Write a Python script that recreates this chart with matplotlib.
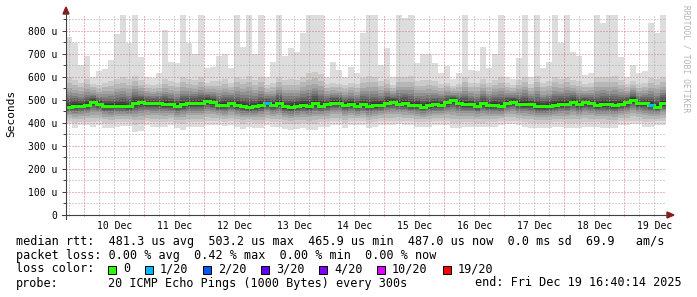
import numpy as np
import matplotlib
matplotlib.use('Agg')
import matplotlib.pyplot as plt
from matplotlib.patches import Rectangle, Polygon
from matplotlib.lines import Line2D

W, H = 697, 297
MONO = 'DejaVu Sans Mono'

# ---------------- data (microseconds), one column per 2.4 h -----------------
COL_HOURS = 2.4          # 10 days shown in 100 columns
DAY0_OFFSET = 7 + 20/60  # hours from window start (9 Dec 16:40) to 10 Dec 00:00

median_us = [470, 473, 474, 477, 492, 482, 474, 473, 474, 474,
             471, 485, 489, 485, 485, 485, 482, 480, 474, 480,
             485, 485, 485, 495, 489,
             477, 477, 485, 477, 474, 468, 471, 476, 485, 479,
             485, 471, 467, 474, 476, 473, 485, 474, 480, 488,
             488, 479, 482, 474, 480,
             474, 476, 479, 488, 492, 483, 485, 477, 479, 470,
             477, 480, 479, 489, 498, 488, 480, 480, 474, 485,
             477, 479, 474, 488, 492,
             483, 482, 482, 471, 471, 474, 479, 482, 483, 492,
             482, 490, 485, 477, 482, 480, 477, 483, 489, 501,
             485, 486, 479, 470, 485]

max_us = [774, 745, 651, 690, 600, 625, 632, 673, 785, 868,
          745, 868, 687, 600, 593, 615, 803, 665, 658, 868,
          745, 701, 868, 636, 644,
          689, 701, 636, 868, 730, 868, 701, 868, 600, 665,
          868, 689, 723, 709, 788, 868, 868, 868, 600, 665,
          630, 600, 644, 615, 788,
          868, 868, 651, 723, 600, 868, 853, 868, 658, 701,
          701, 658, 615, 645, 590, 615, 868, 630, 625, 730,
          636, 701, 868, 600, 590,
          680, 868, 600, 868, 636, 665, 868, 745, 868, 709,
          689, 607, 615, 868, 832, 868, 868, 687, 600, 651,
          615, 625, 832, 788, 868]

upper2_us = [600, 585, 575, 590, 570, 565, 575, 580, 590, 600,
             590, 605, 585, 570, 565, 570, 590, 580, 575, 600,
             590, 585, 600, 575, 580,
             580, 590, 575, 600, 590, 605, 585, 600, 565, 575,
             600, 585, 590, 585, 600, 615, 620, 610, 570, 575,
             570, 565, 575, 570, 595,
             605, 600, 580, 590, 565, 600, 600, 605, 580, 585,
             585, 580, 570, 575, 560, 570, 600, 575, 575, 590,
             575, 585, 600, 575, 565,
             585, 600, 570, 605, 575, 580, 600, 590, 600, 585,
             580, 570, 575, 600, 600, 600, 605, 585, 570, 580,
             570, 575, 595, 590, 600]

lower2_us = [410, 400, 405, 405, 402, 408, 400, 398, 402, 405,
             403, 392, 395, 406, 402, 402, 402, 405, 398, 395,
             402, 402, 402, 406, 406,
             406, 404, 406, 402, 396, 402, 398, 398, 406, 402,
             402, 396, 394, 396, 398, 394, 394, 402, 402, 406,
             406, 398, 406, 406, 406,
             398, 402, 406, 406, 406, 410, 406, 406, 402, 402,
             402, 406, 406, 406, 398, 398, 402, 402, 400, 400,
             402, 402, 406, 410, 410,
             406, 402, 398, 398, 398, 398, 402, 402, 398, 398,
             398, 402, 402, 402, 398, 398, 398, 406, 406, 410,
             410, 402, 402, 406, 406]

min_us = [397, 376, 390, 390, 383, 390, 376, 376, 383, 386,
          386, 362, 365, 390, 383, 383, 383, 390, 376, 370,
          383, 383, 383, 390, 390,
          390, 386, 390, 383, 372, 383, 376, 376, 390, 383,
          383, 372, 369, 372, 376, 369, 369, 383, 383, 390,
          390, 376, 390, 390, 390,
          376, 383, 390, 390, 390, 397, 390, 390, 383, 383,
          383, 390, 390, 390, 376, 376, 383, 383, 380, 380,
          383, 383, 390, 397, 397,
          390, 383, 376, 376, 376, 376, 383, 383, 376, 376,
          376, 383, 383, 383, 376, 376, 376, 390, 390, 397,
          397, 383, 383, 390, 390]

loss_pings = [0, 0, 0, 0, 0, 0, 0, 0, 0, 0, 0, 0, 0, 0, 0, 0, 0, 0, 0, 0,
              0, 0, 0, 0, 0, 0, 0, 0, 0, 0, 0, 0, 0, 1, 0, 0, 0, 0, 0, 0,
              0, 0, 0, 0, 0, 0, 0, 0, 0, 0, 0, 0, 0, 0, 0, 0, 0, 0, 0, 0,
              0, 0, 0, 0, 0, 0, 0, 0, 0, 0, 0, 0, 0, 0, 0, 0, 0, 0, 0, 0,
              0, 0, 0, 0, 0, 0, 0, 0, 0, 0, 0, 0, 0, 0, 0, 0, 0, 1, 0, 0]

day_labels = ['10 Dec', '11 Dec', '12 Dec', '13 Dec', '14 Dec',
              '15 Dec', '16 Dec', '17 Dec', '18 Dec', '19 Dec']
y_ticks_us = [0, 100, 200, 300, 400, 500, 600, 700, 800]

loss_levels = ['0', '1/20', '2/20', '3/20', '4/20', '10/20', '19/20']
loss_counts = [0, 1, 2, 3, 4, 10, 19]
loss_colors = ['#26ff00', '#00b8ff', '#0059ff', '#5e00ff', '#7e00ff', '#dd00ff', '#ff0000']

rtt_line = 'median rtt:  481.3 us avg  503.2 us max  465.9 us min  487.0 us now  0.0 ms sd  69.9   am/s'
loss_line = 'packet loss: 0.00 % avg  0.42 % max  0.00 % min  0.00 % now'
color_label = 'loss color:'
probe_label = 'probe:'
probe_text = '20 ICMP Echo Pings (1000 Bytes) every 300s'
end_text = 'end: Fri Dec 19 16:40:14 2025'

# ---------------------------------------------------------------------------
YMAX = 872.5
FS_AX = 7.0
FS_LEG = 8.5

def fx(px):
    return px / W

def fy(py):
    return 1 - py / H

fig = plt.figure(figsize=(W / 100, H / 100), dpi=100)
fig.patch.set_facecolor('white')
ax = fig.add_axes([fx(66), fy(215), 600 / W, (215 - 14) / H])
ax.set_facecolor('white')

n = len(median_us)
x_edges = np.arange(n + 1) * COL_HOURS
total_h = n * COL_HOURS

def ext(a):
    a = np.asarray(a, dtype=float)
    return np.append(a, a[-1])

med = np.asarray(median_us, float)
up2 = np.asarray(upper2_us, float)
lo2 = np.asarray(lower2_us, float)

# smoke: outer band is min..max, then nested bands converging to the median
gray = lambda k: '#%02x%02x%02x' % ((int(190 / 10 * (10 - k)) + 50,) * 3)
ax.fill_between(x_edges, ext(min_us), ext(np.minimum(max_us, YMAX)), step='post',
                color=gray(1), lw=0, antialiased=False, zorder=1)
ax.fill_between(x_edges, ext(lo2), ext(up2), step='post',
                color=gray(2), lw=0, antialiased=False, zorder=1)
fracs = [0.8, 0.63, 0.5, 0.39, 0.3, 0.22, 0.14, 0.07]
for k, f in zip(range(3, 11), fracs):
    lo = med - (med - lo2) * f
    hi = med + (up2 - med) * f
    ax.fill_between(x_edges, ext(lo), ext(hi), step='post',
                    color=gray(k), lw=0, antialiased=False, zorder=1)

# grid (dotted, on top of smoke)
red_grid = '#e07070'
gray_grid = '#a8a8a8'
dot = (0, (1, 2))
for v in np.arange(50, YMAX, 50):
    ax.axhline(v, color=red_grid if v % 100 == 0 else gray_grid, lw=0.72,
               ls=dot, zorder=2)
six_h = np.arange(DAY0_OFFSET - 6, total_h, 6)
for t in six_h:
    is_day = abs(((t - DAY0_OFFSET) / 24) - round((t - DAY0_OFFSET) / 24)) < 1e-6
    c = red_grid if is_day else gray_grid
    ax.axvline(t, color=c, lw=0.72, ls=dot, zorder=2)
    ax.plot([t, t], [0, -3 / 201 * YMAX], color=c, lw=0.72, ls=dot, clip_on=False,
            zorder=2)

# median line coloured by loss
ax.step(x_edges, ext(med), where='post', color=loss_colors[0], lw=2.2,
        zorder=4, solid_capstyle='butt', solid_joinstyle='miter')
for i, lp in enumerate(loss_pings):
    if lp > 0:
        idx = max(j for j, c in enumerate(loss_counts) if c <= lp)
        ax.hlines(med[i], x_edges[i], x_edges[i + 1], color=loss_colors[idx],
                  lw=2.2, zorder=5)

ax.set_xlim(0, total_h)
ax.set_ylim(0, YMAX)
for s in ax.spines.values():
    s.set_visible(False)

noon = DAY0_OFFSET + 12 + 24 * np.arange(len(day_labels))
ax.set_xticks(noon)
ax.set_xticklabels(day_labels, fontfamily=MONO, fontsize=FS_AX)
ax.tick_params(axis='x', length=0, pad=4)
ax.set_yticks(y_ticks_us)
ax.set_yticklabels([('%d u' % v) if v else '0' for v in y_ticks_us],
                   fontfamily=MONO, fontsize=FS_AX)
ax.set_yticks(np.arange(50, YMAX, 100), minor=True)
ax.tick_params(axis='y', which='major', length=3, width=0.7, color='#404040', pad=3)
ax.tick_params(axis='y', which='minor', length=2, width=0.7, color='#404040')

# axis lines + arrows
axis_col = '#404040'
fig.add_artist(Line2D([fx(62), fx(668)], [fy(215), fy(215)], color=axis_col, lw=0.8))
fig.add_artist(Line2D([fx(66), fx(66)], [fy(219), fy(11)], color=axis_col, lw=0.8))
arrow_col = '#8b1a1a'
fig.add_artist(Polygon([[fx(667), fy(212)], [fx(667), fy(218)], [fx(674), fy(215)]],
                       closed=True, color=arrow_col, transform=fig.transFigure))
fig.add_artist(Polygon([[fx(63), fy(14)], [fx(69), fy(14)], [fx(66), fy(7)]],
                       closed=True, color=arrow_col, transform=fig.transFigure))

# y label and watermark
fig.text(fx(11), fy(113), 'Seconds', rotation=90, ha='center', va='center',
         fontfamily=MONO, fontsize=8)
fig.text(fx(686), fy(5), 'RRDTOOL / TOBI OETIKER', rotation=270, ha='center', va='top',
         fontfamily=MONO, fontsize=5.8, color='#b4b4b4')

# legend text
def t(x, y, s, **kw):
    fig.text(fx(x), fy(y), s, ha='left', va='center', fontfamily=MONO, fontsize=FS_LEG, **kw)

t(16, 241, rtt_line)
t(16, 255, loss_line)
t(16, 269, color_label)
sq_x = [108, 145, 203, 261, 319, 377, 443]
for x, lab, col in zip(sq_x, loss_levels, loss_colors):
    fig.add_artist(Rectangle((fx(x), fy(273.5)), 8 / W, 8 / H, transform=fig.transFigure,
                             facecolor=col, edgecolor='black', lw=0.7))
    t(x + 15, 269, lab)
t(16, 283, probe_label)
t(108, 283, probe_text)
t(475, 283, end_text)

fig.savefig('out.png', dpi=100, facecolor='white')
